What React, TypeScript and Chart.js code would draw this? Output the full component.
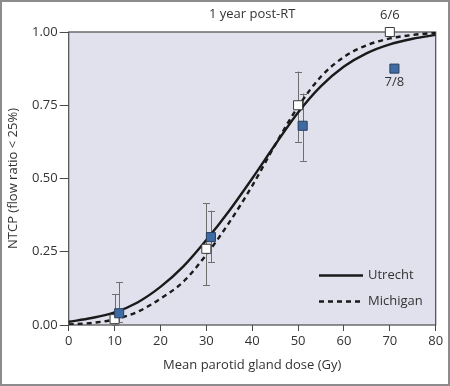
import { useEffect, useRef } from "react";
import { Chart, registerables } from "chart.js";
Chart.register(...registerables);

// ---- data ----
const curveDoses = [0, 5, 10, 15, 20, 25, 30, 35, 40, 45, 50, 55, 60, 65, 70, 75, 80];
const utrechtNTCP = [0.011, 0.024, 0.043, 0.077, 0.13, 0.2, 0.29, 0.39, 0.5, 0.615, 0.725, 0.815, 0.882, 0.928, 0.958, 0.977, 0.99];
const michiganNTCP = [0.002, 0.007, 0.019, 0.045, 0.09, 0.148, 0.24, 0.35, 0.475, 0.615, 0.745, 0.848, 0.915, 0.955, 0.978, 0.99, 0.997];

const groupADoses = [10, 30, 50, 70];
const groupARate = [0.02, 0.26, 0.75, 1.0];
const groupALow = [0.0, 0.135, 0.625, 1.0];
const groupAHigh = [0.105, 0.415, 0.865, 1.0];
const groupALabels = ["", "", "", "6/6"];

const groupBDoses = [11, 31, 51, 71];
const groupBRate = [0.04, 0.3, 0.68, 0.875];
const groupBLow = [0.01, 0.215, 0.56, 0.875];
const groupBHigh = [0.146, 0.39, 0.79, 0.875];
const groupBLabels = ["", "", "", "7/8"];

const xTicks = [0, 10, 20, 30, 40, 50, 60, 70, 80];
const yTicks = [0, 0.25, 0.5, 0.75, 1.0];

const chartTitle = "1 year post-RT";
const xTitle = "Mean parotid gland dose (Gy)";
const yTitle = "NTCP (flow ratio < 25%)";

const FONT = "'Open Sans', 'DejaVu Sans', sans-serif";
const TEXT = "#333333";
const AXIS = "#4a4a4a";

const decorPlugin = {
  id: "decor",
  beforeDraw(chart: any) {
    const { ctx, chartArea: a, width, height } = chart;
    ctx.save();
    ctx.fillStyle = "#ffffff";
    ctx.fillRect(0, 0, width, height);
    ctx.fillStyle = "#e0e1ed";
    ctx.fillRect(a.left, a.top, a.right - a.left, a.bottom - a.top);
    // outer frame
    ctx.strokeStyle = "#8c8c8c";
    ctx.lineWidth = 2;
    ctx.strokeRect(1, 1, width - 2, height - 2);
    ctx.restore();
  },
  beforeDatasetsDraw(chart: any) {
    const { ctx, chartArea: a, scales } = chart;
    const xs = scales.x, ys = scales.y;
    ctx.save();
    // plot border
    ctx.strokeStyle = AXIS;
    ctx.lineWidth = 1.2;
    ctx.strokeRect(a.left, a.top, a.right - a.left, a.bottom - a.top);
    // error bars
    ctx.strokeStyle = "#6e6e6e";
    ctx.lineWidth = 1;
    const groups = [
      [groupADoses, groupALow, groupAHigh],
      [groupBDoses, groupBLow, groupBHigh],
    ];
    for (const [d, lo, hi] of groups) {
      d.forEach((dv: number, i: number) => {
        if (lo[i] === hi[i]) return;
        const x = Math.round(xs.getPixelForValue(dv)) + 0.5;
        const y1 = ys.getPixelForValue(lo[i]);
        const y2 = ys.getPixelForValue(hi[i]);
        ctx.beginPath();
        ctx.moveTo(x, y1);
        ctx.lineTo(x, y2);
        ctx.moveTo(x - 3.5, Math.round(y1) + 0.5);
        ctx.lineTo(x + 3.5, Math.round(y1) + 0.5);
        ctx.moveTo(x - 3.5, Math.round(y2) + 0.5);
        ctx.lineTo(x + 3.5, Math.round(y2) + 0.5);
        ctx.stroke();
      });
    }
    ctx.restore();
  },
  afterDraw(chart: any) {
    const { ctx, chartArea: a, scales } = chart;
    const xs = scales.x, ys = scales.y;
    ctx.save();
    ctx.fillStyle = TEXT;
    ctx.font = `13px ${FONT}`;
    ctx.textAlign = "center";
    ctx.textBaseline = "middle";
    ctx.fillText(chartTitle, (a.left + a.right) / 2, 14);
    // point count labels
    groupADoses.forEach((d, i) => {
      if (!groupALabels[i]) return;
      ctx.fillText(groupALabels[i], xs.getPixelForValue(d), ys.getPixelForValue(groupARate[i]) - 17);
    });
    groupBDoses.forEach((d, i) => {
      if (!groupBLabels[i]) return;
      ctx.fillText(groupBLabels[i], xs.getPixelForValue(d), ys.getPixelForValue(groupBRate[i]) + 14);
    });
    // legend
    const ds = chart.data.datasets;
    const entries = [ds[0], ds[1]];
    const lx1 = 319, lx2 = 363;
    const ly0 = a.bottom - 49.5, step = 26;
    entries.forEach((e: any, i: number) => {
      const y = ly0 + i * step;
      ctx.strokeStyle = e.borderColor;
      ctx.lineWidth = e.borderWidth;
      ctx.setLineDash(e.borderDash || []);
      ctx.beginPath();
      ctx.moveTo(lx1, y);
      ctx.lineTo(lx2, y);
      ctx.stroke();
      ctx.setLineDash([]);
      ctx.textAlign = "left";
      ctx.fillStyle = TEXT;
      ctx.fillText(e.label, lx2 + 5, y);
    });
    ctx.restore();
  },
};

export default function App() {
  const ref = useRef<HTMLCanvasElement>(null);
  useEffect(() => {
    document.body.style.margin = "0";
    Chart.defaults.font.family = FONT;
    Chart.defaults.font.size = 13;
    Chart.defaults.color = TEXT;
    const chart = new Chart(ref.current as HTMLCanvasElement, {
      type: "scatter",
      data: {
        datasets: [
          {
            label: "Utrecht",
            data: curveDoses.map((d, i) => ({ x: d, y: utrechtNTCP[i] })),
            showLine: true,
            borderColor: "#1a1a1a",
            borderWidth: 2.4,
            pointRadius: 0,
            cubicInterpolationMode: "monotone",
            order: 2,
          },
          {
            label: "Michigan",
            data: curveDoses.map((d, i) => ({ x: d, y: michiganNTCP[i] })),
            showLine: true,
            borderColor: "#1a1a1a",
            borderWidth: 2.4,
            borderDash: [5, 4],
            pointRadius: 0,
            cubicInterpolationMode: "monotone",
            order: 3,
          },
          {
            label: "Group A",
            data: groupADoses.map((d, i) => ({ x: d, y: groupARate[i] })),
            pointStyle: "rect",
            pointRadius: 6.4,
            backgroundColor: "#ffffff",
            borderColor: "#3a3a3a",
            borderWidth: 1,
            clip: false as any,
            order: 1,
          },
          {
            label: "Group B",
            data: groupBDoses.map((d, i) => ({ x: d, y: groupBRate[i] })),
            pointStyle: "rect",
            pointRadius: 6.4,
            backgroundColor: "#3e6ba3",
            borderColor: "#2b3f5c",
            borderWidth: 1,
            clip: false as any,
            order: 0,
          },
        ],
      },
      options: {
        responsive: false,
        animation: false,
        layout: { padding: { left: 0, right: 14.3, top: 32, bottom: 0 } },
        plugins: { legend: { display: false }, tooltip: { enabled: false }, title: { display: false } },
        scales: {
          x: {
            type: "linear",
            min: 0,
            max: 80,
            afterBuildTicks: (s: any) => {
              s.ticks = xTicks.map((v) => ({ value: v }));
            },
            afterFit: (s: any) => {
              s.height = 61;
            },
            ticks: { color: TEXT, padding: 2, font: { size: 13, family: FONT } },
            grid: { display: true, drawOnChartArea: false, drawTicks: true, tickLength: 6, color: AXIS, lineWidth: 1 },
            border: { display: false },
            title: { display: true, text: xTitle, color: TEXT, font: { size: 13, family: FONT }, padding: { top: 0, bottom: 13 } },
          },
          y: {
            type: "linear",
            min: 0,
            max: 1,
            afterBuildTicks: (s: any) => {
              s.ticks = yTicks.map((v) => ({ value: v }));
            },
            afterFit: (s: any) => {
              s.width = 68.7;
            },
            ticks: { color: TEXT, padding: 2, font: { size: 13, family: FONT }, callback: (v: any) => Number(v).toFixed(2) },
            grid: { display: true, drawOnChartArea: false, drawTicks: true, tickLength: 9, color: AXIS, lineWidth: 1 },
            border: { display: false },
            title: { display: true, text: yTitle, color: TEXT, font: { size: 13, family: FONT }, padding: { top: 5, bottom: 0 } },
          },
        },
      },
      plugins: [decorPlugin],
    } as any);
    return () => chart.destroy();
  }, []);
  return <canvas ref={ref} width={450} height={386} style={{ display: "block" }} />;
}
